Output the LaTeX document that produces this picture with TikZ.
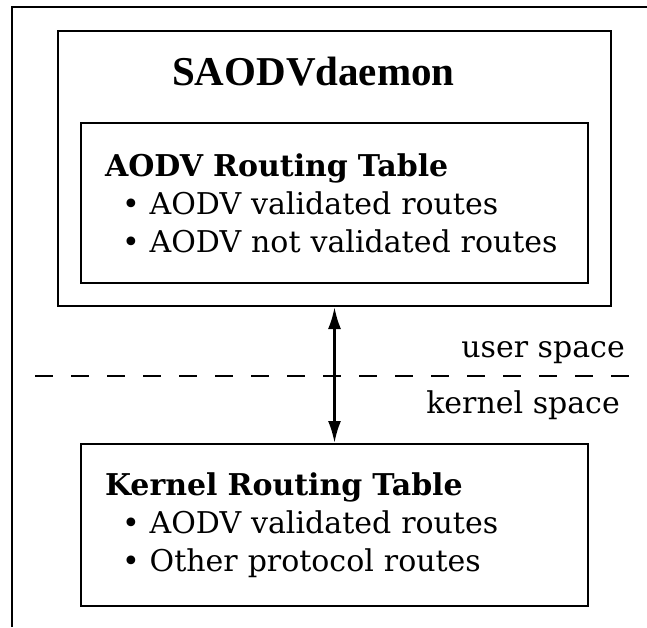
\documentclass[tikz,border=0pt]{standalone}
\usepackage{fontspec}
\setmainfont{DejaVu Serif}
\newfontfamily\titlefont{Liberation Serif}
\usetikzlibrary{arrows.meta,positioning}
\tikzstyle{box}=[draw, rectangle, line width=2pt, inner sep=0pt]
\tikzstyle{table}=[box, align=left, text width=459pt, inner xsep=24pt, minimum width=507pt]
\tikzstyle{space label}=[anchor=base east, inner sep=0pt]

\begin{document}
\begin{tikzpicture}[x=1pt,y=-1pt,>={Latex[length=22pt,width=13pt]}]
    \fontsize{30}{38}\selectfont
    \useasboundingbox (0,0) rectangle (647,627);

    % Frame
    \draw[line width=2pt] (12,627) -- (12,7) -- (647,7);

    % Daemon
    \draw (334.5,168.5) node[box, minimum width=553pt, minimum height=275pt] (daemon) {};
    \draw (172,85) node[anchor=base west, inner sep=0pt] (title)
        {\titlefont\bfseries\fontsize{41}{41}\selectfont SAODVdaemon};

    % Tables
    \draw (334.5,203) node[table, minimum height=160pt] (aodv)
        {\textbf{AODV Routing Table}\\
         \hspace*{17pt}• AODV validated routes\\
         \hspace*{17pt}• AODV not validated routes};
    \draw (334.5,525) node[table, minimum height=162pt] (kernel)
        {\textbf{Kernel Routing Table}\\
         \hspace*{17pt}• AODV validated routes\\
         \hspace*{17pt}• Other protocol routes};

    % User / kernel boundary
    \draw[line width=1.6pt, dash pattern=on 18pt off 18pt] (35,376) -- (640,376);
    \draw (625,357) node[space label] (user) {user space};
    \draw (620,413) node[space label] (kern) {kernel space};

    \draw[<->, line width=2.6pt] (daemon.south) -- (kernel.north);

\end{tikzpicture}
\end{document}
